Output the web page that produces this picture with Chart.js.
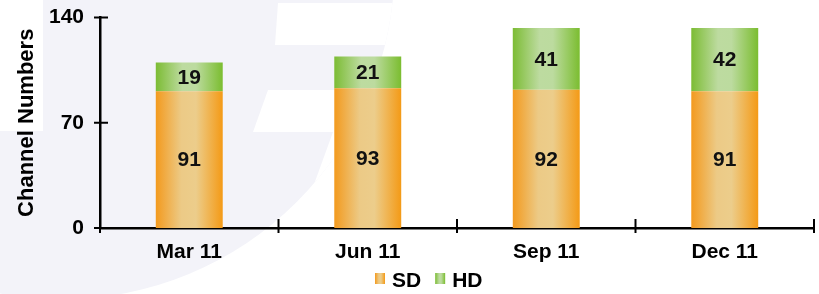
<!DOCTYPE html>
<html><head><meta charset="utf-8">
<script src="https://cdn.jsdelivr.net/npm/chart.js@4.4.1/dist/chart.umd.min.js"></script>
<style>html,body{margin:0;padding:0;background:#fff;} canvas{display:block;}</style>
</head><body>
<canvas id="c" width="819" height="294"></canvas>
<script>
const categories = ['Mar 11', 'Jun 11', 'Sep 11', 'Dec 11'];
const sdValues = [91, 93, 92, 91];
const hdValues = [19, 21, 41, 42];
const seriesNames = ['SD', 'HD'];
const yTicks = [0, 70, 140];
const yTitle = 'Channel Numbers';

const FONT = "'Liberation Sans', Arial, sans-serif";
const ORANGE = [[0, '#f39a1e'], [0.38, '#ecca86'], [0.6, '#eccd8b'], [1, '#f49a16']];
const GREEN = [[0, '#7cbc34'], [0.4, '#bddba0'], [0.6, '#bcdb9f'], [1, '#7bbd30']];
const BAR_PCT = 0.375;

function grad(ctx, x0, x1, stops) {
  const g = ctx.createLinearGradient(x0, 0, x1, 0);
  stops.forEach(s => g.addColorStop(s[0], s[1]));
  return g;
}
function barFill(stops) {
  return (c) => {
    const chart = c.chart; const xs = chart.scales && chart.scales.x;
    if (!xs || c.dataIndex === undefined || !xs.width) return stops[0][1];
    const cx = xs.getPixelForValue(c.dataIndex);
    const hw = xs.width / categories.length * BAR_PCT / 2;
    return grad(chart.ctx, cx - hw, cx + hw, stops);
  };
}
function line(ctx, x0, y0, x1, y1) { ctx.beginPath(); ctx.moveTo(x0, y0); ctx.lineTo(x1, y1); ctx.stroke(); }
function poly(ctx, pts) { ctx.beginPath(); pts.forEach((p, i) => i ? ctx.lineTo(p[0], p[1]) : ctx.moveTo(p[0], p[1])); ctx.closePath(); ctx.fill(); }

const backgroundPlugin = {
  id: 'bg',
  beforeDraw(chart) {
    const ctx = chart.ctx;
    ctx.save();
    ctx.fillStyle = '#fff'; ctx.fillRect(0, 0, chart.width, chart.height);
    ctx.beginPath(); ctx.arc(61.5, -33.7, 333, 0, Math.PI * 2); ctx.clip();
    ctx.fillStyle = '#f3f3f9'; ctx.fillRect(0, 0, chart.width, chart.height);
    ctx.fillStyle = '#fff';
    poly(ctx, [[278, 3], [420, 3], [420, 45], [275, 45]]);
    poly(ctx, [[268, 90], [420, 90], [420, 132], [253, 132]]);
    poly(ctx, [[333, 132], [420, 132], [420, 300], [272, 300]]);
    ctx.restore();
    ctx.fillStyle = '#fff'; ctx.fillRect(0, 0, 43, 131);
  }
};

const axisTickPlugin = {
  id: 'axisTicks',
  afterDraw(chart) {
    const ctx = chart.ctx, xs = chart.scales.x, ys = chart.scales.y;
    ctx.save(); ctx.strokeStyle = '#000'; ctx.lineWidth = 2;
    ys.ticks.forEach(t => { const y = ys.getPixelForValue(t.value); line(ctx, ys.right - 6, y, ys.right + 8, y); });
    const n = categories.length, w = xs.width / n;
    for (let i = 0; i <= n; i++) { const x = xs.left + i * w; line(ctx, x, xs.top - 9, x, xs.top + 5); }
    ctx.restore();
  }
};

const valueLabelPlugin = {
  id: 'valueLabels',
  afterDatasetsDraw(chart) {
    const ctx = chart.ctx;
    ctx.save();
    ctx.font = 'bold 21px ' + FONT; ctx.fillStyle = '#111';
    ctx.textAlign = 'center'; ctx.textBaseline = 'middle';
    chart.data.datasets.forEach((ds, di) => {
      chart.getDatasetMeta(di).data.forEach((el, i) => {
        ctx.fillText(String(ds.data[i]), el.x, (el.y + el.base) / 2 + 1);
      });
    });
    ctx.restore();
  }
};

const legendPlugin = {
  id: 'customLegend',
  afterDraw(chart) {
    const ctx = chart.ctx;
    ctx.save();
    ctx.font = 'bold 21px ' + FONT; ctx.textBaseline = 'middle'; ctx.textAlign = 'left'; ctx.fillStyle = '#000';
    const stops = [ORANGE, GREEN];
    let x = 375; const boxTop = 273, boxW = 10, boxH = 11, textY = 281;
    chart.data.datasets.forEach((ds, di) => {
      ctx.fillStyle = grad(ctx, x, x + boxW, stops[di]);
      ctx.fillRect(x, boxTop, boxW, boxH);
      ctx.fillStyle = '#000';
      ctx.fillText(ds.label, x + 17, textY);
      x += 17 + ctx.measureText(ds.label).width + 14;
    });
    ctx.restore();
  }
};

new Chart(document.getElementById('c'), {
  type: 'bar',
  data: {
    labels: categories,
    datasets: [
      { label: seriesNames[0], data: sdValues, backgroundColor: barFill(ORANGE), borderWidth: 0 },
      { label: seriesNames[1], data: hdValues, backgroundColor: barFill(GREEN), borderWidth: 0 }
    ]
  },
  options: {
    responsive: false, animation: false, devicePixelRatio: 1,
    layout: { padding: { top: 17.5, right: 5, bottom: 0, left: 0 } },
    datasets: { bar: { categoryPercentage: 1, barPercentage: BAR_PCT } },
    plugins: { legend: { display: false }, tooltip: { enabled: false } },
    scales: {
      x: {
        stacked: true,
        grid: { display: false, drawTicks: false },
        border: { display: true, color: '#000', width: 2.5 },
        ticks: { color: '#000', font: { family: FONT, size: 21, weight: 'bold' }, padding: 12 },
        afterFit: (s) => { s.height = 66; s.paddingLeft = 0; s.paddingRight = 0; }
      },
      y: {
        stacked: true, min: 0, max: 140,
        afterBuildTicks: (s) => { s.ticks = yTicks.map(v => ({ value: v })); },
        grid: { display: false, drawTicks: false },
        border: { display: true, color: '#000', width: 2.5 },
        ticks: { color: '#000', font: { family: FONT, size: 21, weight: 'bold' }, padding: 16 },
        title: { display: true, text: yTitle, color: '#000', font: { family: FONT, size: 22, weight: 'bold' }, padding: { top: 14, bottom: 0 } },
        afterFit: (s) => { s.width = 100; s.paddingTop = 0; s.paddingBottom = 0; }
      }
    }
  },
  plugins: [backgroundPlugin, axisTickPlugin, valueLabelPlugin, legendPlugin]
});
</script>
</body></html>
